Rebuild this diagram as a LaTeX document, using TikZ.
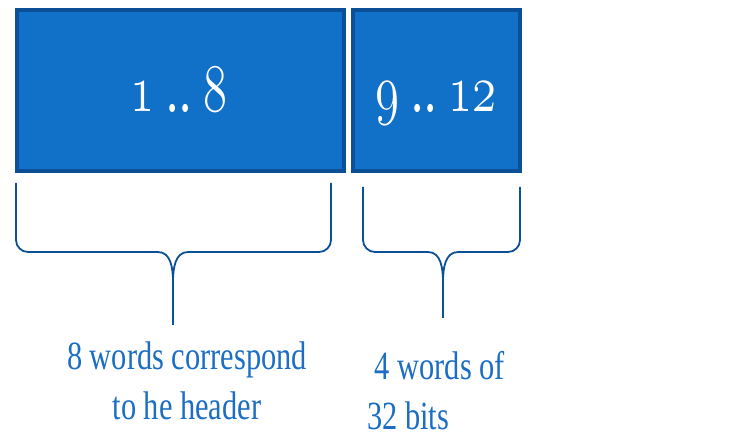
\RequirePackage{fix-cm}
\documentclass[tikz,border=0pt]{standalone}
\usepackage{fontspec}
\setmainfont{Liberation Serif}
\newfontfamily\capfont[FakeStretch=0.76]{Liberation Serif}
\usepackage{tikz}
\usetikzlibrary{positioning}
\definecolor{colorfill}{RGB}{17,112,199}
\definecolor{colorline}{RGB}{11,80,150}
\definecolor{colortext}{RGB}{27,110,196}
\tikzset{
  field/.style={draw=colorline, fill=colorfill, line width=4pt, inner sep=0pt, text=white},
  bracket/.style={colorline, line width=1.8pt},
  caption/.style={colortext, inner sep=0pt, font=\capfont\fontsize{40}{50}\selectfont}
}
\newcommand\osdig[1]{{\usefont{OML}{cmm}{m}{it}#1}}
\newcommand\osnum[2]{\scalebox{0.72}[1]{\fontsize{68}{68}\selectfont\osdig{#1}\ ..\ \osdig{#2}}}

\begin{document}
\begin{tikzpicture}[x=1pt, y=-1pt]
\useasboundingbox (0,0) rectangle (731,435);

\node[field, minimum width=327pt, minimum height=161pt](hdr) at (180.5,90.5) {};
\node[field, minimum width=167pt, minimum height=161pt](pay) at (436.5,90.5) {};

\node[text=white, anchor=base](hdrnum) at (179,112) {\osnum{1}{8}};
\node[text=white, anchor=base](paynum) at (436,112) {\osnum{9}{12}};

% braces
\draw[bracket] (16,183) -- (16,240) to[out=-90, in=180] (28,252)
  -- (158,252) to[out=0, in=90] (173,282) -- (173,325);
\draw[bracket] (331,183) -- (331,240) to[out=-90, in=0] (319,252)
  -- (188,252) to[out=180, in=90] (173,282);

\draw[bracket] (363,187) -- (363,240) to[out=-90, in=180] (375,252)
  -- (428,252) to[out=0, in=90] (443,282) -- (443,318);
\draw[bracket] (520,187) -- (520,240) to[out=-90, in=0] (508,252)
  -- (458,252) to[out=180, in=90] (443,282);

\node[caption, align=center, anchor=north](hdrtxt) at (187,341.5)
{8 words correspond\\to he header};
\node[caption, align=left, anchor=north west](paytxt) at (367,351)
{\ 4 words of\\32 bits};
\end{tikzpicture}
\end{document}
